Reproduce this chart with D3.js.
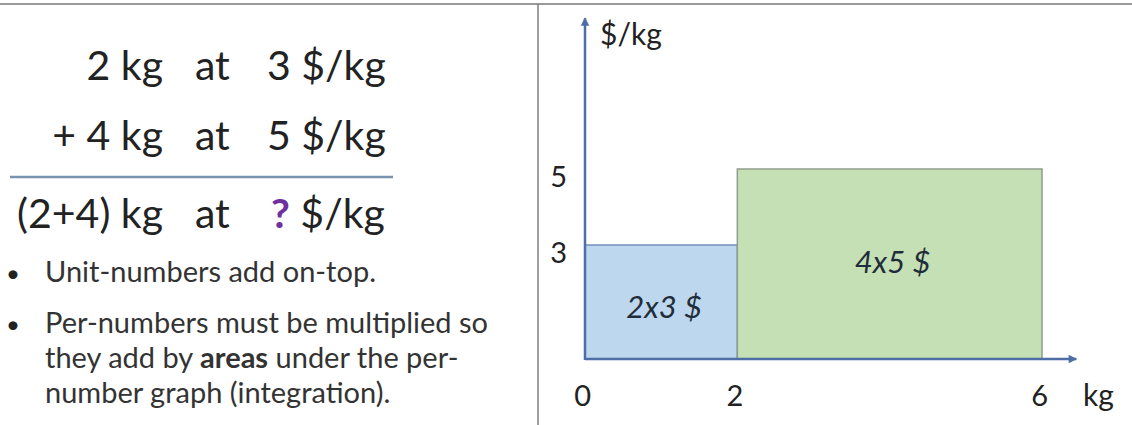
<!DOCTYPE html>
<html>
<head>
<meta charset="utf-8">
<script src="https://cdn.jsdelivr.net/npm/d3@7"></script>
<style>
  body { margin: 0; background: #fff; }
  svg { display: block; font-family: Lato, "Open Sans", sans-serif; }
</style>
</head>
<body>
<div id="chart"></div>
<script>
// data
let quantities = [2, 4];            // kg
let prices = [3, 5];                // $/kg
let areaLabels = ["2x3 $", "4x5 $"];
let xTicks = [0, 2, 6];
let yTicks = [3, 5];
let xUnit = "kg";
let yUnit = "$/kg";

let sumRows = [
    {qty: "2 kg", word: "at", price: "3", unit: " $/kg"},
    {qty: "+ 4 kg", word: "at", price: "5", unit: " $/kg"},
    {qty: "(2+4) kg", word: "at", price: "?", unit: " $/kg"}
];
let bullets = [
    ["Unit-numbers add on-top."],
    ["Per-numbers must be multiplied so", "they add by |areas| under the per-", "number graph (integration)."]
];

//Options
let W = 1132, H = 425;
let axisColor = "#4e6ea6";
let textColor = "#222";
let fills = ["#bdd7ee", "#c5e0b4"];
let strokes = ["#7191b8", "#8f9e8c"];

let svg = d3.select("#chart").append("svg")
    .attr("width", W)
    .attr("height", H);

// frame lines
svg.append("line")
    .attr("x1", 0).attr("x2", W).attr("y1", 4).attr("y2", 4)
    .style("stroke", "#9a9a9a").style("stroke-width", 2);
svg.append("line")
    .attr("x1", 538).attr("x2", 538).attr("y1", 4).attr("y2", H)
    .style("stroke", "#7f7f7f").style("stroke-width", 1.5);

// ---- left side: the sum ----
let left = svg.append("g").attr("id", "sum");
let rowY = [80, 150, 228];

let rows = left.selectAll("g.row")
    .data(sumRows)
    .enter()
    .append("g")
        .attr("class", "row")
        .attr("transform", (d, i) => `translate(0, ${rowY[i]})`)
        .style("font-size", "41px")
        .style("fill", textColor);

rows.append("text")
    .attr("x", 163)
    .attr("text-anchor", "end")
    .text(d => d.qty);
rows.append("text")
    .attr("x", 195)
    .text(d => d.word);
let priceText = rows.append("text")
    .attr("x", d => d.price == "?" ? 271 : 267);
priceText.append("tspan")
    .text(d => d.price)
    .style("fill", d => d.price == "?" ? "#7030a0" : textColor)
    .style("font-weight", d => d.price == "?" ? "bold" : "normal");
priceText.append("tspan")
    .text(d => d.unit);

left.append("line")
    .attr("x1", 10).attr("x2", 393).attr("y1", 177).attr("y2", 177)
    .style("stroke", "#7893ad").style("stroke-width", 2.5);

// bullets
let bulletY = [282, 333];
let lineGap = 35;
bullets.forEach(function(lines, b){
    left.append("text")
        .attr("x", 13).attr("y", bulletY[b])
        .attr("text-anchor", "middle")
        .style("font-size", "24px")
        .style("fill", textColor)
        .text("\u2022");
    lines.forEach(function(line, j){
        let t = left.append("text")
            .attr("x", 45)
            .attr("y", bulletY[b] + j*lineGap)
            .style("font-size", "29px")
            .style("fill", "#333");
        line.split("|").forEach(function(part, k){
            t.append("tspan")
                .text(part)
                .style("font-weight", k % 2 == 1 ? "bold" : "normal");
        });
    });
});

// ---- right side: per-number graph ----
let x0 = 585, y0 = 359;
let x = d3.scaleLinear().domain([0, 6]).range([x0, 1042]);
let y = d3.scaleLinear().domain([0, 5]).range([y0, 169]);
let xEnd = 6.45, yEnd = 8.97;

let segs = [];
let acc = 0;
quantities.forEach(function(q, i){
    segs.push({from: acc, to: acc + q, price: prices[i], label: areaLabels[i]});
    acc += q;
});

let plotArea = svg.append("g").attr("id", "plotArea");

plotArea.selectAll("rect.seg")
    .data(segs)
    .enter()
    .append("rect")
        .attr("class", "seg")
        .attr("x", d => x(d.from))
        .attr("y", d => y(d.price))
        .attr("width", d => x(d.to) - x(d.from))
        .attr("height", d => y(0) - y(d.price))
        .style("fill", (d, i) => fills[i])
        .style("stroke", (d, i) => strokes[i])
        .style("stroke-width", 1.5);

plotArea.selectAll("text.area")
    .data(segs)
    .enter()
    .append("text")
        .attr("class", "area")
        .attr("x", d => x((d.from + d.to) / 2) + 3)
        .attr("y", (d, i) => (y(d.price) + y(0)) / 2 + (i == 0 ? 5 : -2))
        .attr("dy", "0.35em")
        .attr("text-anchor", "middle")
        .style("font-size", "31px")
        .style("font-style", "italic")
        .style("fill", "#1f2d3a")
        .text(d => d.label);

// axes with arrows
let defs = svg.append("defs");
defs.append("marker")
    .attr("id", "arrow")
    .attr("viewBox", "0 0 10 10")
    .attr("refX", 9).attr("refY", 5)
    .attr("markerWidth", 4.4).attr("markerHeight", 3.4)
    .attr("orient", "auto")
    .append("path")
        .attr("d", "M0,0 L10,5 L0,10 Z")
        .style("fill", axisColor);

plotArea.append("line")
    .attr("x1", x(0)).attr("y1", y(0))
    .attr("x2", x(xEnd)).attr("y2", y(0))
    .style("stroke", axisColor).style("stroke-width", 2.5)
    .attr("marker-end", "url(#arrow)");
plotArea.append("line")
    .attr("x1", x(0)).attr("y1", y(0) + 1)
    .attr("x2", x(0)).attr("y2", y(yEnd))
    .style("stroke", axisColor).style("stroke-width", 2.5)
    .attr("marker-end", "url(#arrow)");

let x_ax = d3.axisBottom(x)
    .tickValues(xTicks)
    .tickSize(0)
    .tickPadding(26)
    .tickFormat(d3.format("d"));
let y_ax = d3.axisLeft(y)
    .tickValues(yTicks)
    .tickSize(0)
    .tickPadding(18)
    .tickFormat(d3.format("d"));

let gx = plotArea.append("g")
    .attr("transform", `translate(0, ${y0})`)
    .call(x_ax);
let gy = plotArea.append("g")
    .attr("transform", `translate(${x0}, 0)`)
    .call(y_ax);

[gx, gy].forEach(function(g){
    g.select(".domain").remove();
    g.selectAll("text")
        .style("font-family", "Lato, 'Open Sans', sans-serif")
        .style("font-size", "29px")
        .style("fill", textColor);
});
gx.selectAll("text").attr("dx", "-0.1em");
gy.selectAll("text").attr("dy", "0.6em");

// unit labels
plotArea.append("text")
    .attr("x", 600).attr("y", 45)
    .style("font-size", "30px")
    .style("fill", textColor)
    .text(yUnit);
plotArea.append("text")
    .attr("x", 1083).attr("y", y0 + 26)
    .attr("dy", "0.71em")
    .style("font-size", "30px")
    .style("fill", textColor)
    .text(xUnit);
</script>
</body>
</html>
